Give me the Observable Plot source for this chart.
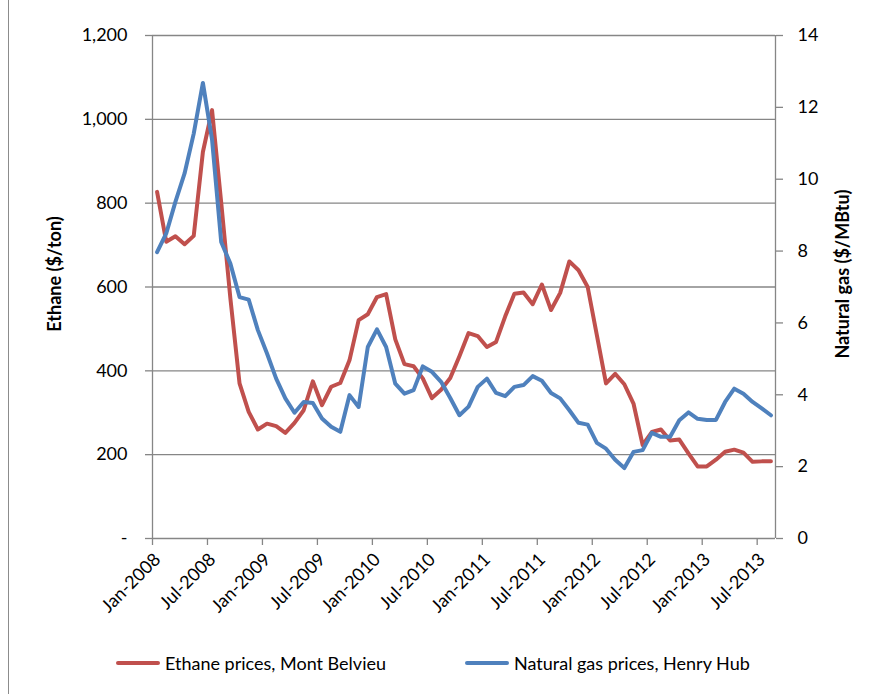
<!DOCTYPE html>
<html>
<head>
<meta charset="utf-8">
<script src="https://cdn.jsdelivr.net/npm/d3@7"></script>
<script src="https://cdn.jsdelivr.net/npm/@observablehq/plot@0.6"></script>
<style>
  html, body { margin: 0; padding: 0; background: #fff; }
  #wrap { position: relative; width: 871px; height: 694px; overflow: hidden; font-family: Lato, "Open Sans", sans-serif; }
  #border { position: absolute; left: 8px; top: 0; width: 0; height: 694px; border-left: 1.5px solid #8c8c8c; }
  .leg { position: absolute; top: 652px; font-size: 18px; color: #000; white-space: nowrap; line-height: 22px; }
  .sw { position: absolute; height: 4px; top: 661px; border-radius: 2px; }
</style>
</head>
<body>
<div id="wrap">
  <div id="chart"></div>
  <div id="border"></div>
  <div class="sw" style="left:116px;width:44px;background:#C0504D"></div>
  <div class="leg" style="left:165px">Ethane prices, Mont Belvieu</div>
  <div class="sw" style="left:465px;width:44px;background:#4F81BD"></div>
  <div class="leg" style="left:514px">Natural gas prices, Henry Hub</div>
</div>
<script>
// Monthly series, Jan-2008 .. Aug-2013 (68 months)
const ethane = [827,708,721,702,722,922,1022,801,573,370,
                302,260,274,268,252,276,306,375,318,362,
                371,425,521,535,576,583,475,416,411,382,
                335,355,383,435,490,483,457,469,530,584,
                587,559,606,545,586,661,640,600,485,370,
                393,368,322,223,254,260,234,236,203,172,
                172,188,207,212,205,183,184,184];
const gas = [7.97,8.49,9.37,10.16,11.27,12.68,11.1,8.25,7.65,6.72,
             6.65,5.80,5.15,4.45,3.90,3.50,3.80,3.77,3.34,3.11,
             2.97,3.99,3.66,5.33,5.82,5.33,4.31,4.03,4.13,4.79,
             4.64,4.36,3.91,3.43,3.67,4.22,4.45,4.05,3.96,4.22,
             4.27,4.52,4.39,4.05,3.90,3.57,3.22,3.17,2.66,2.50,
             2.19,1.96,2.41,2.46,2.94,2.83,2.83,3.29,3.51,3.33,
             3.30,3.30,3.80,4.17,4.03,3.80,3.62,3.43];
const xTickLabels = ["Jan-2008","Jul-2008","Jan-2009","Jul-2009","Jan-2010","Jul-2010",
                     "Jan-2011","Jul-2011","Jan-2012","Jul-2012","Jan-2013","Jul-2013"];
const leftTicks = [0,200,400,600,800,1000,1200];
const rightTicks = [0,2,4,6,8,10,12,14];

const nMonths = ethane.length;
const k = 1200 / 14; // secondary axis mapping
const grid = "#868686";
const ethRows = ethane.map((v, i) => ({i: i + 0.5, v}));
const gasRows = gas.map((v, i) => ({i: i + 0.5, v: v * k}));
const xTickPos = xTickLabels.map((_, j) => j * 6);

const chart = Plot.plot({
  width: 871,
  height: 640,
  marginLeft: 152,
  marginRight: 96,
  marginTop: 35,
  marginBottom: 102,
  style: {fontFamily: "Lato, 'Open Sans', sans-serif", fontSize: "18px", color: "#000", background: "#fff", overflow: "visible"},
  x: {domain: [0, nMonths], axis: null},
  y: {domain: [0, 1200], axis: null},
  marks: [
    Plot.ruleY(leftTicks.filter(d => d > 0), {x1: 0, x2: nMonths, stroke: grid, strokeWidth: 1.3}),
    Plot.ruleX([0, nMonths], {y1: 0, y2: 1200, stroke: grid, strokeWidth: 1.3}),
    Plot.ruleY([0], {x1: 0, x2: nMonths, stroke: grid, strokeWidth: 1.3}),
    Plot.axisY({anchor: "left", ticks: leftTicks, tickFormat: d => d === 0 ? "-" : d3.format(",")(d),
      tickSize: 7, tickPadding: 18, stroke: grid, strokeWidth: 1.3, fill: "#000", label: null}),
    Plot.axisY({anchor: "right", ticks: rightTicks.map(v => v * k), tickFormat: d => String(Math.round(d / k)),
      tickSize: 7, tickPadding: 15, stroke: grid, strokeWidth: 1.3, fill: "#000", label: null}),
    // x tick marks
    Plot.axisX({ticks: xTickPos, tickFormat: () => "", tickSize: 7, stroke: grid, strokeWidth: 1.3, label: null}),
    // x tick labels, rotated
    Plot.axisX({ticks: xTickPos, tickFormat: d => xTickLabels[d / 6], tickRotate: -45,
      tickSize: 0, tickPadding: 18, dx: 5, fill: "#000", label: null}),
    Plot.text(["Ethane ($/ton)"], {frameAnchor: "left", textAnchor: "middle", dx: -97, dy: -13, rotate: -90,
      fontWeight: "bold", fontSize: 18, fill: "#000"}),
    Plot.text(["Natural gas ($/MBtu)"], {frameAnchor: "right", textAnchor: "middle", dx: 68, dy: -13, rotate: -90,
      fontWeight: "bold", fontSize: 18, fill: "#000"}),
    Plot.line(ethRows, {x: "i", y: "v", stroke: "#C0504D", strokeWidth: 4, strokeLinejoin: "round", strokeLinecap: "round"}),
    Plot.line(gasRows, {x: "i", y: "v", stroke: "#4F81BD", strokeWidth: 4, strokeLinejoin: "round", strokeLinecap: "round"})
  ]
});
document.getElementById("chart").appendChild(chart);
</script>
</body>
</html>
